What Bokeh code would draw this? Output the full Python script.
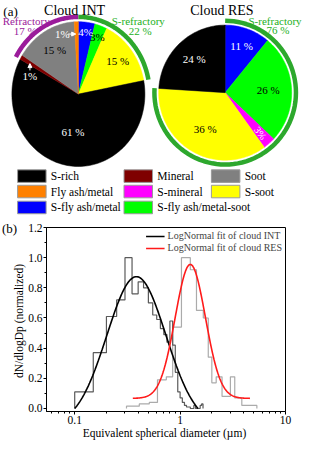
import numpy as np
from bokeh.plotting import figure
from bokeh.models import (Range1d, Legend, LegendItem, FixedTicker, Div,
                          CustomJSTickFormatter, PrintfTickFormatter, Arrow, NormalHead)
from bokeh.core.properties import value
from bokeh.embed import file_html
from bokeh.resources import INLINE

FONT = "Liberation Serif"

# ---------------- data ----------------
categories = ["S-rich", "Mineral", "Soot", "Fly ash/metal", "S-mineral", "S-soot",
              "S-fly ash/metal", "S-fly ash/metal-soot"]
cat_colors = ["#000000", "#7f0000", "#808080", "#ff8000", "#ff00ff", "#ffff00",
              "#0000ff", "#00ff00"]

# pie slices, clockwise from 12 o'clock
int_slices = ["S-fly ash/metal", "S-fly ash/metal-soot", "S-soot", "S-rich",
              "Mineral", "Soot", "Fly ash/metal"]
int_pct = [4, 3, 15, 61, 1, 15, 1]
int_labels = ["4%", "3%", "15 %", "61 %", "1%", "15 %", "1%"]
res_slices = ["S-fly ash/metal", "S-fly ash/metal-soot", "S-mineral", "S-soot", "S-rich"]
res_pct = [11, 26, 3, 36, 24]
res_labels = ["11 %", "26 %", "3%", "36 %", "24 %"]

# size distributions (normalized dN/dlogDp)
int_edges = [0.10, 0.15, 0.20, 0.25, 0.30, 0.35, 0.40, 0.45, 0.50, 0.55, 0.60, 0.65,
             0.70, 0.75, 0.80, 0.85, 0.90, 0.95, 1.00, 1.05, 1.10, 1.15, 1.20, 1.25,
             1.30, 1.35, 1.40, 1.45, 1.50, 1.55, 1.60, 1.65]
int_hist = [0.11, 0.37, 0.61, 0.72, 1.00, 0.76, 0.84, 0.80, 0.70, 0.62, 0.59, 0.53,
            0.49, 0.44, 0.58, 0.42, 0.24, 0.11, 0.07, 0.04, 0.02, 0.01, 0.01, 0.00,
            0.00, 0.02, 0.00, 0.00, 0.00, 0.02, 0.03]
res_edges = [0.31, 0.41, 0.51, 0.61, 0.74, 0.85, 1.03, 1.25, 1.43, 1.66, 1.85, 2.0,
             2.2, 2.5, 3.0, 3.3, 3.85, 5.35]
res_hist = [0.015, 0.03, 0.04, 0.19, 0.21, 0.54, 1.00, 0.92, 0.65, 0.60, 0.34, 0.17,
            0.21, 0.08, 0.21, 0.07, 0.02]

# LogNormal fit parameters (centre um, width log10, amplitude, offset, x-range)
int_fit = dict(xc=0.385, w=0.28, A=0.985, y0=-0.111, xmin=0.10, xmax=1.48)
res_fit = dict(xc=1.25, w=0.143, A=0.888, y0=0.067, xmin=0.356, xmax=4.6)

color_of = dict(zip(categories, cat_colors))
PURPLE = "#9b1b9b"
GREEN_ARC = "#2da82d"
GREEN_TXT = "#22b022"

# ---------------- top: pies ----------------
p1 = figure(width=304, height=220, x_range=Range1d(0, 320), y_range=Range1d(228, 0),
            output_backend="svg", toolbar_location=None, min_border=0,
            x_axis_location=None, y_axis_location=None)
p1.grid.visible = False
p1.outline_line_color = None


def tx(p, x, y, t, size="11px", color="black", align="center", angle=0, style="normal"):
    p.text(x=[x], y=[y], text=[t], text_font=value(FONT), text_font_size=size,
           text_color=color, text_align=align, text_baseline="middle", angle=angle,
           angle_units="deg", text_font_style=style)


def pie(p, cx, cy, rx, ry, names, pct):
    cum = np.concatenate([[0], np.cumsum(pct)]) / float(sum(pct))
    xs, ys, cols = [], [], []
    for i, n in enumerate(names):
        t = np.linspace(cum[i], cum[i + 1], 4 + int(pct[i] * 2)) * 2 * np.pi
        xs.append(np.concatenate([[cx], cx + rx * np.sin(t)]))
        ys.append(np.concatenate([[cy], cy - ry * np.cos(t)]))
        cols.append(color_of[n])
    p.patches(xs, ys, fill_color=cols, line_color=cols, line_width=0.5)
    return cum


def arc(p, cx, cy, rx, ry, f0, f1, color):
    t = np.linspace(f0, f1, 80) * 2 * np.pi
    p.line(cx + rx * np.sin(t), cy - ry * np.cos(t), line_color=color, line_width=4.5,
           line_cap="butt")


def mid_pos(cx, cy, rx, ry, cum, i, f):
    a = (cum[i] + cum[i + 1]) / 2 * 2 * np.pi
    return cx + f * rx * np.sin(a), cy - f * ry * np.cos(a)


# Cloud INT
icx, icy, irx, iry = 82, 97, 70, 75
cum_i = pie(p1, icx, icy, irx, iry, int_slices, int_pct)
arc(p1, icx, icy, irx + 5, iry + 5, cum_i[4], cum_i[7], PURPLE)
arc(p1, icx, icy, irx + 5, iry + 5, cum_i[0], cum_i[3], GREEN_ARC)
int_lab_r = [0.86, 0.84, 0.75, 0.53, None, 0.70, None]
int_lab_c = ["white", "black", "black", "white", "white", "black", "white"]
for i, lab in enumerate(int_labels):
    if int_lab_r[i] is None:
        continue
    x, y = mid_pos(icx, icy, irx, iry, cum_i, i, int_lab_r[i])
    tx(p1, x, y, lab, color=int_lab_c[i])
# small slices with arrows
ox, oy = mid_pos(icx, icy, irx, iry, cum_i, 6, 0.83)
p1.add_layout(Arrow(end=NormalHead(size=4, fill_color="white", line_color="white"),
                    x_start=ox - 9, y_start=oy, x_end=ox - 1, y_end=oy,
                    line_color="white", line_width=1))
tx(p1, ox - 15, oy, int_labels[6], color="white")
mx, my = mid_pos(icx, icy, irx, iry, cum_i, 4, 0.88)
p1.add_layout(Arrow(end=NormalHead(size=4, fill_color="white", line_color="white"),
                    x_start=mx + 2, y_start=my + 9, x_end=mx + 2, y_end=my + 2,
                    line_color="white", line_width=1))
tx(p1, mx + 2, my + 15, int_labels[4], color="white")

tx(p1, 27, 21, "Refractory", color=PURPLE)
tx(p1, 26, 32, "%d %%" % sum(int_pct[4:7]), color=PURPLE)
tx(p1, 145, 21, "S-refractory", color=GREEN_TXT)
tx(p1, 147, 32, "%d %%" % sum(int_pct[0:3]), color=GREEN_TXT)
tx(p1, 78, 10, "Cloud INT", size="14px")
tx(p1, 3, 11, "(a)", size="13px", align="left")

# Cloud RES
rcx, rcy, rr = 236.5, 95.5, 70
cum_r = pie(p1, rcx, rcy, rr, rr, res_slices, res_pct)
arc(p1, rcx, rcy, rr + 4.5, rr + 4.5, cum_r[0], cum_r[4], GREEN_ARC)
res_lab_r = [0.73, 0.65, 0.80, 0.62, 0.68]
res_lab_c = ["white", "black", "white", "black", "white"]
res_lab_a = [0, 0, -52, 0, 0]
for i, lab in enumerate(res_labels):
    x, y = mid_pos(rcx, rcy, rr, rr, cum_r, i, res_lab_r[i])
    tx(p1, x, y, lab, color=res_lab_c[i], angle=res_lab_a[i], size="10px" if i == 2 else "11px")
tx(p1, 289, 21, "S-refractory", color=GREEN_TXT)
tx(p1, 292, 31, "%d %%" % sum(res_pct[0:4]), color=GREEN_TXT)
tx(p1, 233, 10, "Cloud RES", size="14px")

# category legend (3 columns, row-major)
col_x = [18, 130, 222]
row_y = [182, 198, 214.5]
sw_x, sw_y, lab_x = [], [], []
for k, c in enumerate(categories):
    r, cc = divmod(k, 3)
    sw_x.append(col_x[cc] + 15)
    sw_y.append(row_y[r])
    lab_x.append(col_x[cc] + 35)
p1.rect(x=sw_x, y=sw_y, width=30, height=13, fill_color=cat_colors,
        line_color="#9a9a9a", line_width=1)
p1.text(x=lab_x, y=sw_y, text=categories, text_font=value(FONT), text_font_size="11.5px",
        text_baseline="middle", text_align="left", text_color="black")

# ---------------- bottom: size distribution ----------------
p2 = figure(width=304, height=221, x_axis_type="log", x_range=Range1d(0.054, 10),
            y_range=Range1d(-0.02, 1.2001), output_backend="svg", toolbar_location=None,
            min_border_left=46, min_border_right=19, min_border_top=7, min_border_bottom=0)
p2.grid.visible = False
p2.outline_line_color = "black"
p2.outline_line_width = 1


def steps(edges, vals):
    xs, ys = [edges[0]], [0.0]
    for i, v in enumerate(vals):
        xs += [edges[i], edges[i + 1]]
        ys += [v, v]
    xs.append(edges[-1])
    ys.append(0.0)
    return xs, ys


rx_, ry_ = steps(res_edges, res_hist)
p2.line(rx_, ry_, line_color="#ababab", line_width=1.2)
ix_, iy_ = steps(int_edges, int_hist)
p2.line(ix_, iy_, line_color="#5a5a5a", line_width=1.2)


def lognormal_curve(fp):
    x = np.logspace(np.log10(fp["xmin"]), np.log10(fp["xmax"]), 200)
    d = np.log10(x) - np.log10(fp["xc"])
    return x, fp["y0"] + fp["A"] * np.exp(-d ** 2 / (2 * fp["w"] ** 2))


xi, yi = lognormal_curve(int_fit)
r_int = p2.line(xi, yi, line_color="black", line_width=1.6)
xr, yr = lognormal_curve(res_fit)
r_res = p2.line(xr, yr, line_color="#ff1a1a", line_width=1.6)

leg = Legend(items=[LegendItem(label="LogNormal fit of cloud INT", renderers=[r_int]),
                    LegendItem(label="LogNormal fit of cloud RES", renderers=[r_res])],
             location="top_right", border_line_alpha=0, background_fill_alpha=0,
             label_text_font=FONT, label_text_font_size="10px", glyph_width=19,
             glyph_height=10, label_standoff=3, spacing=1, padding=2, margin=1,
             label_height=11)
p2.add_layout(leg)

major_x = [0.1, 1, 10]
minor_x = [m * d for d in (0.01, 0.1, 1) for m in range(2, 10) if 0.054 <= m * d <= 10]
p2.xaxis.ticker = FixedTicker(ticks=major_x, minor_ticks=minor_x)
p2.xaxis.formatter = CustomJSTickFormatter(code="return tick.toString();")
p2.yaxis.ticker = FixedTicker(ticks=[0, 0.2, 0.4, 0.6, 0.8, 1.0, 1.2],
                              minor_ticks=[0.1, 0.3, 0.5, 0.7, 0.9, 1.1])
p2.yaxis.formatter = PrintfTickFormatter(format="%.1f")
for ax in (p2.xaxis[0], p2.yaxis[0]):
    ax.major_tick_in = 0
    ax.major_tick_out = 3
    ax.minor_tick_in = 0
    ax.minor_tick_out = 2
    ax.axis_line_color = "black"
    ax.major_tick_line_color = "black"
    ax.minor_tick_line_color = "black"
    ax.major_label_text_font = FONT
    ax.major_label_text_font_size = "11.5px"
    ax.major_label_text_color = "black"
    ax.axis_label_text_font = FONT
    ax.axis_label_text_font_size = "11.5px"
    ax.axis_label_text_font_style = "normal"
    ax.axis_label_text_color = "black"
    ax.major_label_standoff = 1
    ax.axis_label_standoff = 0
p2.xaxis.axis_label = "Equivalent spherical diameter  (\u00b5m)"
p2.yaxis.axis_label = "dN/dlogDp  (normalized)"

# panel letter (b), placed over the left margin of the lower chart
lab_b = Div(text="(b)", width=20, height=16,
            styles={"position": "absolute", "margin-top": "-219px", "margin-left": "2px",
                    "font-family": FONT, "font-size": "13px", "line-height": "14px",
                    "color": "black", "z-index": "10"})

open("out.html", "w").write(file_html([p1, p2, lab_b], INLINE))
